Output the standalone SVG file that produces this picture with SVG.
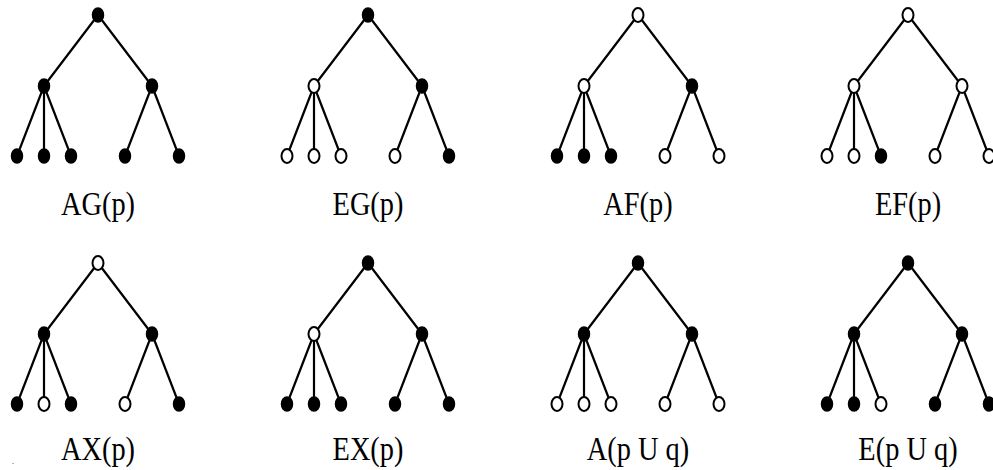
<svg xmlns="http://www.w3.org/2000/svg" width="993" height="470" viewBox="0 0 993 470">
<style>
.e{stroke:#000;stroke-width:2.2;fill:none}
.f{fill:#000;stroke:#000;stroke-width:1.5}
.o{fill:#fff;stroke:#000;stroke-width:2}
.lbl{font-family:"Liberation Serif","Times New Roman",serif;font-size:33px;text-anchor:middle;fill:#000}
</style>
<defs>
<g id="edges">
<path class="e" d="M0,0L-54,71M0,0L54,71M-54,71L-81,141M-54,71L-54,141M-54,71L-27,141M54,71L27,141M54,71L81,141"/>
</g>
</defs>
<rect width="993" height="470" fill="#fff"/>
<g id="connectors">
<use href="#edges" transform="translate(98,15)"/>
<use href="#edges" transform="translate(368,15)"/>
<use href="#edges" transform="translate(638,15)"/>
<use href="#edges" transform="translate(908,15)"/>
<use href="#edges" transform="translate(98,263)"/>
<use href="#edges" transform="translate(368,263)"/>
<use href="#edges" transform="translate(638,263)"/>
<use href="#edges" transform="translate(908,263)"/>
</g>
<g id="tree-AG" transform="translate(98,15)">
<g id="ag-r"><ellipse class="f" cx="0" cy="0" rx="5.5" ry="7"/></g>
<g id="ag-l"><ellipse class="f" cx="-54" cy="71" rx="5.5" ry="7"/></g>
<g id="ag-rt"><ellipse class="f" cx="54" cy="71" rx="5.5" ry="7"/></g>
<g id="ag-1"><ellipse class="f" cx="-81" cy="141" rx="5.5" ry="7"/></g>
<g id="ag-2"><ellipse class="f" cx="-54" cy="141" rx="5.5" ry="7"/></g>
<g id="ag-3"><ellipse class="f" cx="-27" cy="141" rx="5.5" ry="7"/></g>
<g id="ag-4"><ellipse class="f" cx="27" cy="141" rx="5.5" ry="7"/></g>
<g id="ag-5"><ellipse class="f" cx="81" cy="141" rx="5.5" ry="7"/></g>
<text class="lbl" x="0" y="200" transform="scale(0.86,1)">AG(p)</text>
</g>
<g id="tree-EG" transform="translate(368,15)">
<g id="eg-r"><ellipse class="f" cx="0" cy="0" rx="5.5" ry="7"/></g>
<g id="eg-l"><ellipse class="o" cx="-54" cy="71" rx="5.5" ry="7"/></g>
<g id="eg-rt"><ellipse class="f" cx="54" cy="71" rx="5.5" ry="7"/></g>
<g id="eg-1"><ellipse class="o" cx="-81" cy="141" rx="5.5" ry="7"/></g>
<g id="eg-2"><ellipse class="o" cx="-54" cy="141" rx="5.5" ry="7"/></g>
<g id="eg-3"><ellipse class="o" cx="-27" cy="141" rx="5.5" ry="7"/></g>
<g id="eg-4"><ellipse class="o" cx="27" cy="141" rx="5.5" ry="7"/></g>
<g id="eg-5"><ellipse class="f" cx="81" cy="141" rx="5.5" ry="7"/></g>
<text class="lbl" x="0" y="200" transform="scale(0.86,1)">EG(p)</text>
</g>
<g id="tree-AF" transform="translate(638,15)">
<g id="af-r"><ellipse class="o" cx="0" cy="0" rx="5.5" ry="7"/></g>
<g id="af-l"><ellipse class="o" cx="-54" cy="71" rx="5.5" ry="7"/></g>
<g id="af-rt"><ellipse class="f" cx="54" cy="71" rx="5.5" ry="7"/></g>
<g id="af-1"><ellipse class="f" cx="-81" cy="141" rx="5.5" ry="7"/></g>
<g id="af-2"><ellipse class="f" cx="-54" cy="141" rx="5.5" ry="7"/></g>
<g id="af-3"><ellipse class="f" cx="-27" cy="141" rx="5.5" ry="7"/></g>
<g id="af-4"><ellipse class="o" cx="27" cy="141" rx="5.5" ry="7"/></g>
<g id="af-5"><ellipse class="o" cx="81" cy="141" rx="5.5" ry="7"/></g>
<text class="lbl" x="0" y="200" transform="scale(0.86,1)">AF(p)</text>
</g>
<g id="tree-EF" transform="translate(908,15)">
<g id="ef-r"><ellipse class="o" cx="0" cy="0" rx="5.5" ry="7"/></g>
<g id="ef-l"><ellipse class="o" cx="-54" cy="71" rx="5.5" ry="7"/></g>
<g id="ef-rt"><ellipse class="o" cx="54" cy="71" rx="5.5" ry="7"/></g>
<g id="ef-1"><ellipse class="o" cx="-81" cy="141" rx="5.5" ry="7"/></g>
<g id="ef-2"><ellipse class="o" cx="-54" cy="141" rx="5.5" ry="7"/></g>
<g id="ef-3"><ellipse class="f" cx="-27" cy="141" rx="5.5" ry="7"/></g>
<g id="ef-4"><ellipse class="o" cx="27" cy="141" rx="5.5" ry="7"/></g>
<g id="ef-5"><ellipse class="o" cx="81" cy="141" rx="5.5" ry="7"/></g>
<text class="lbl" x="0" y="200" transform="scale(0.86,1)">EF(p)</text>
</g>
<g id="tree-AX" transform="translate(98,263)">
<g id="ax-r"><ellipse class="o" cx="0" cy="0" rx="5.5" ry="7"/></g>
<g id="ax-l"><ellipse class="f" cx="-54" cy="71" rx="5.5" ry="7"/></g>
<g id="ax-rt"><ellipse class="f" cx="54" cy="71" rx="5.5" ry="7"/></g>
<g id="ax-1"><ellipse class="f" cx="-81" cy="141" rx="5.5" ry="7"/></g>
<g id="ax-2"><ellipse class="o" cx="-54" cy="141" rx="5.5" ry="7"/></g>
<g id="ax-3"><ellipse class="f" cx="-27" cy="141" rx="5.5" ry="7"/></g>
<g id="ax-4"><ellipse class="o" cx="27" cy="141" rx="5.5" ry="7"/></g>
<g id="ax-5"><ellipse class="f" cx="81" cy="141" rx="5.5" ry="7"/></g>
<text class="lbl" x="0" y="197" transform="scale(0.86,1)">AX(p)</text>
</g>
<g id="tree-EX" transform="translate(368,263)">
<g id="ex-r"><ellipse class="f" cx="0" cy="0" rx="5.5" ry="7"/></g>
<g id="ex-l"><ellipse class="o" cx="-54" cy="71" rx="5.5" ry="7"/></g>
<g id="ex-rt"><ellipse class="f" cx="54" cy="71" rx="5.5" ry="7"/></g>
<g id="ex-1"><ellipse class="f" cx="-81" cy="141" rx="5.5" ry="7"/></g>
<g id="ex-2"><ellipse class="f" cx="-54" cy="141" rx="5.5" ry="7"/></g>
<g id="ex-3"><ellipse class="f" cx="-27" cy="141" rx="5.5" ry="7"/></g>
<g id="ex-4"><ellipse class="f" cx="27" cy="141" rx="5.5" ry="7"/></g>
<g id="ex-5"><ellipse class="f" cx="81" cy="141" rx="5.5" ry="7"/></g>
<text class="lbl" x="0" y="197" transform="scale(0.86,1)">EX(p)</text>
</g>
<g id="tree-AU" transform="translate(638,263)">
<g id="au-r"><ellipse class="f" cx="0" cy="0" rx="5.5" ry="7"/></g>
<g id="au-l"><ellipse class="f" cx="-54" cy="71" rx="5.5" ry="7"/></g>
<g id="au-rt"><ellipse class="f" cx="54" cy="71" rx="5.5" ry="7"/></g>
<g id="au-1"><ellipse class="o" cx="-81" cy="141" rx="5.5" ry="7"/></g>
<g id="au-2"><ellipse class="o" cx="-54" cy="141" rx="5.5" ry="7"/></g>
<g id="au-3"><ellipse class="o" cx="-27" cy="141" rx="5.5" ry="7"/></g>
<g id="au-4"><ellipse class="o" cx="27" cy="141" rx="5.5" ry="7"/></g>
<g id="au-5"><ellipse class="o" cx="81" cy="141" rx="5.5" ry="7"/></g>
<text class="lbl" x="0" y="197" transform="scale(0.86,1)">A(p U q)</text>
</g>
<g id="tree-EU" transform="translate(908,263)">
<g id="eu-r"><ellipse class="f" cx="0" cy="0" rx="5.5" ry="7"/></g>
<g id="eu-l"><ellipse class="f" cx="-54" cy="71" rx="5.5" ry="7"/></g>
<g id="eu-rt"><ellipse class="f" cx="54" cy="71" rx="5.5" ry="7"/></g>
<g id="eu-1"><ellipse class="f" cx="-81" cy="141" rx="5.5" ry="7"/></g>
<g id="eu-2"><ellipse class="f" cx="-54" cy="141" rx="5.5" ry="7"/></g>
<g id="eu-3"><ellipse class="o" cx="-27" cy="141" rx="5.5" ry="7"/></g>
<g id="eu-4"><ellipse class="f" cx="27" cy="141" rx="5.5" ry="7"/></g>
<g id="eu-5"><ellipse class="f" cx="81" cy="141" rx="5.5" ry="7"/></g>
<text class="lbl" x="0" y="197" transform="scale(0.86,1)">E(p U q)</text>
</g>
<text x="12" y="464" style="font-family:'Liberation Serif',serif;font-size:8px;fill:#000">.</text>
</svg>
